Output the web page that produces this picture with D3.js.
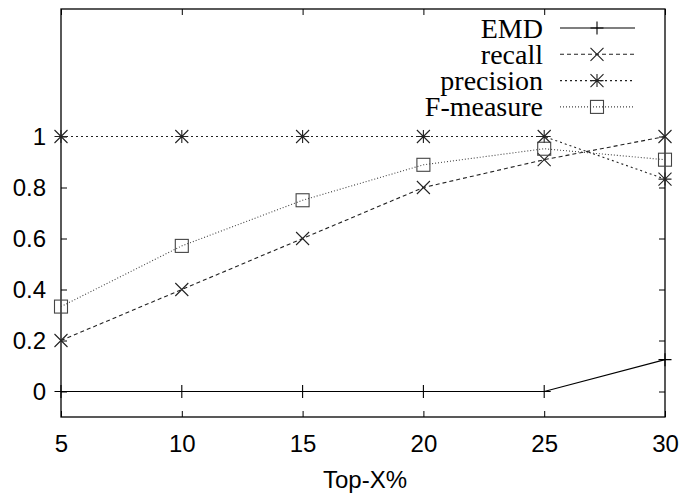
<!DOCTYPE html>
<html>
<head>
<meta charset="utf-8">
<script src="https://cdn.jsdelivr.net/npm/d3@7"></script>
<style>
	body { margin: 0; background: #fff; }
	svg { display: block; }
	.legend text { font-family: 'Liberation Serif', 'Times New Roman', serif; font-size: 28px; fill: #000; }
</style>
</head>
<body>
<svg id="chart"></svg>
<script>
const topX = [5, 10, 15, 20, 25, 30]
const emd = [0, 0, 0, 0, 0, 0.125]
const recall = [0.2, 0.4, 0.6, 0.8, 0.909, 1.0]
const precision = [1, 1, 1, 1, 1, 0.833]
const fMeasure = [0.333, 0.571, 0.75, 0.889, 0.952, 0.909]
const yTicks = [0, 0.2, 0.4, 0.6, 0.8, 1]
const xTicks = [5, 10, 15, 20, 25, 30]

function lineChart() {
	const width = 681
	const height = 496

	const margin = {
		top: 9,
		right: 16,
		bottom: 79,
		left: 61
	}

	const xScale = d3.scaleLinear().domain([5, 30]).range([margin.left, width - margin.right])
	const yScale = d3.scaleLinear().domain([-0.1, 1.5]).range([height - margin.bottom, margin.top])

	const svg = d3.select('#chart').attr('width', width).attr('height', height)

	const series = [
		{ name: 'EMD', values: emd, dash: null, color: '#000', marker: 'plus' },
		{ name: 'recall', values: recall, dash: '4,3', color: '#222', marker: 'cross' },
		{ name: 'precision', values: precision, dash: '2,3', color: '#222', marker: 'star' },
		{ name: 'F-measure', values: fMeasure, dash: '1,2', color: '#444', marker: 'square' }
	]

	// frame
	svg
		.append('rect')
		.attr('x', margin.left)
		.attr('y', margin.top)
		.attr('width', width - margin.left - margin.right)
		.attr('height', height - margin.top - margin.bottom)
		.attr('fill', 'none')
		.attr('stroke', '#000')
		.attr('stroke-width', 1.3)

	const xAxis = d3.axisBottom(xScale).tickValues(xTicks).tickSize(-6).tickPadding(18).tickFormat(d3.format('d'))
	const yAxis = d3.axisLeft(yScale).tickValues(yTicks).tickSize(-6).tickPadding(15).tickFormat(d => (d === 0 || d === 1 ? d3.format('d')(d) : d3.format('.1f')(d)))

	const gx = svg.append('g').attr('transform', `translate(0,${height - margin.bottom})`).call(xAxis)
	const gy = svg.append('g').attr('transform', `translate(${margin.left},0)`).call(yAxis)
	// mirrored ticks
	const gx2 = svg.append('g').attr('transform', `translate(0,${margin.top})`).call(d3.axisTop(xScale).tickValues(xTicks).tickSize(-6).tickFormat(''))
	const gy2 = svg.append('g').attr('transform', `translate(${width - margin.right},0)`).call(d3.axisRight(yScale).tickValues(yTicks).tickSize(-6).tickFormat(''))

	;[gx, gy, gx2, gy2].forEach(g => {
		g.select('.domain').remove()
		g.selectAll('line').attr('stroke', '#000')
		g.attr('font-family', "'Liberation Sans', Arial, sans-serif").attr('font-size', 24)
		g.selectAll('text').attr('fill', '#000')
	})

	svg
		.append('text')
		.attr('x', 365)
		.attr('y', 488)
		.attr('text-anchor', 'middle')
		.style('font-family', "'Liberation Sans', Arial, sans-serif")
		.style('font-size', '24px')
		.text('Top-X%')

	function drawMarker(g, type, x, y, color) {
		const s = 6.5
		let p = ''
		if (type === 'plus' || type === 'star') p += `M${x - s},${y}H${x + s}M${x},${y - s}V${y + s}`
		if (type === 'cross' || type === 'star') p += `M${x - s},${y - s}L${x + s},${y + s}M${x - s},${y + s}L${x + s},${y - s}`
		if (type === 'square') {
			g.append('rect')
				.attr('x', x - s)
				.attr('y', y - s)
				.attr('width', 2 * s)
				.attr('height', 2 * s)
				.attr('fill', 'none')
				.attr('stroke', color)
				.attr('stroke-width', 1.1)
			return
		}
		g.append('path').attr('d', p).attr('fill', 'none').attr('stroke', color).attr('stroke-width', 1.1)
	}

	const line = d3
		.line()
		.x((d, i) => xScale(topX[i]))
		.y(d => yScale(d))

	series.forEach(s => {
		const g = svg.append('g')
		g.append('path')
			.attr('d', line(s.values))
			.attr('fill', 'none')
			.attr('stroke', s.color)
			.attr('stroke-width', 1.1)
			.attr('stroke-dasharray', s.dash)
		s.values.forEach((v, i) => drawMarker(g, s.marker, xScale(topX[i]), yScale(v), s.color))
	})

	// legend
	const legend = svg.append('g').attr('class', 'legend')
	series.forEach((s, i) => {
		const ly = 28 + i * 26.3
		legend
			.append('text')
			.attr('x', 543)
			.attr('y', ly + 9.5)
			.attr('text-anchor', 'end')
			.text(s.name)
		legend
			.append('line')
			.attr('x1', 560)
			.attr('x2', 635)
			.attr('y1', ly)
			.attr('y2', ly)
			.attr('stroke', s.color)
			.attr('stroke-width', 1.1)
			.attr('stroke-dasharray', s.dash)
		drawMarker(legend, s.marker, 597, ly, s.color)
	})
}

lineChart()
</script>
</body>
</html>
